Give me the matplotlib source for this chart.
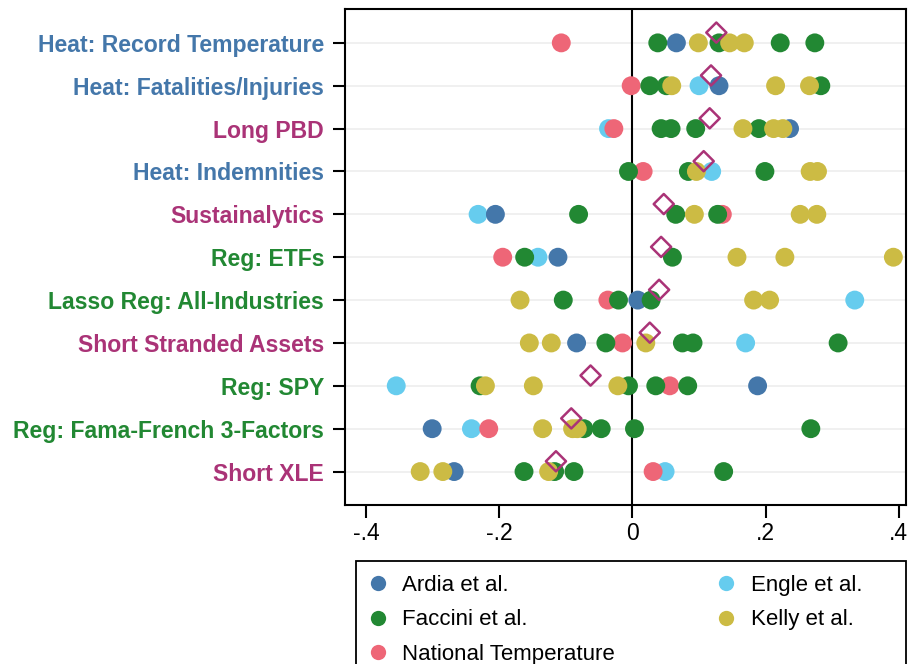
import matplotlib
matplotlib.use("Agg")
import matplotlib.pyplot as plt
from matplotlib.lines import Line2D
from matplotlib.patches import Rectangle

plt.rcParams['font.family'] = ['Liberation Sans', 'DejaVu Sans']

# strategies, top to bottom
strategies = [
    "Heat: Record Temperature", "Heat: Fatalities/Injuries", "Long PBD",
    "Heat: Indemnities", "Sustainalytics", "Reg: ETFs",
    "Lasso Reg: All-Industries", "Short Stranded Assets", "Reg: SPY",
    "Reg: Fama-French 3-Factors", "Short XLE",
]
label_colors = [
    "#4477AA", "#4477AA", "#AA3377", "#4477AA", "#AA3377", "#228833",
    "#228833", "#AA3377", "#228833", "#228833", "#AA3377",
]

# estimates per strategy and source
ardia = [[0.066], [0.130], [0.236], [], [-0.206], [-0.112], [0.008],
         [-0.084], [0.188], [-0.301], [-0.268]]
faccini = [[0.038, 0.130, 0.222, 0.274], [0.026, 0.051, 0.283],
           [0.043, 0.058, 0.095, 0.190], [-0.006, 0.084, 0.199],
           [-0.081, 0.065, 0.128], [-0.162, 0.060], [-0.104, -0.021, 0.028],
           [-0.040, 0.075, 0.091, 0.309], [-0.229, -0.006, 0.035, 0.083],
           [-0.073, -0.047, 0.003, 0.268], [-0.163, -0.117, -0.088, 0.137]]
national = [[-0.107], [-0.002], [-0.028], [0.016], [0.135], [-0.195],
            [-0.037], [-0.015], [0.056], [-0.216], [0.031]]
engle = [[], [0.100], [-0.036], [0.119], [-0.232], [-0.142], [0.334],
         [0.170], [-0.355], [-0.242], [0.049]]
kelly = [[0.099, 0.146, 0.168], [0.059, 0.215, 0.266],
         [0.166, 0.212, 0.226], [0.096, 0.267, 0.278],
         [0.093, 0.252, 0.277], [0.157, 0.229, 0.392],
         [-0.169, 0.182, 0.206], [-0.155, -0.122, 0.020],
         [-0.221, -0.149, -0.022], [-0.135, -0.090, -0.083],
         [-0.319, -0.285, -0.126]]
means = [0.126, 0.118, 0.116, 0.107, 0.047, 0.043, 0.040, 0.026,
         -0.063, -0.092, -0.115]

series = [
    ("Engle et al.", engle, "#66CCEE"),
    ("Ardia et al.", ardia, "#4477AA"),
    ("National Temperature", national, "#EE6677"),
    ("Faccini et al.", faccini, "#228833"),
    ("Kelly et al.", kelly, "#CCBB44"),
]

n = len(strategies)
ypos = [n - i for i in range(n)]

fig = plt.figure(figsize=(9.09, 6.64), dpi=100)
ax = fig.add_axes([345 / 909, 1 - 505 / 664, (906 - 345) / 909, (505 - 9) / 664])

for y in ypos:
    ax.axhline(y, color="#EFEFEF", lw=1.3, zorder=0)
ax.axvline(0, color="black", lw=1.5, zorder=1)

for z, (name, vals, col) in enumerate(series):
    xs, ys = [], []
    for y, row in zip(ypos, vals):
        xs += row
        ys += [y] * len(row)
    ax.scatter(xs, ys, s=185, color=col, edgecolors="none", zorder=3 + z)

ax.scatter(means, [y + 0.24 for y in ypos], marker="D", s=105,
           facecolors="none", edgecolors="#AA3377", linewidths=1.8, zorder=10)

ax.set_xlim(-0.432, 0.411)
ax.set_ylim(0.22, n + 0.79)
ax.set_xticks([-0.4, -0.2, 0, 0.2, 0.4])
ax.set_xticklabels(["-.4", "-.2", "0", ".2", ".4"], fontsize=16.5)
ax.set_yticks(ypos)
ax.set_yticklabels(strategies, fontsize=16.6, fontweight="bold")
for lab, c in zip(ax.get_yticklabels(), label_colors):
    lab.set_color(c)
ax.tick_params(axis="y", length=9, width=1.5, pad=6)
ax.tick_params(axis="x", length=9, width=1.5, pad=3)
for sp in ax.spines.values():
    sp.set_linewidth(1.5)

# legend, order: Ardia, Faccini, National | Engle, Kelly
order = ["Ardia et al.", "Faccini et al.", "National Temperature",
         "Engle et al.", "Kelly et al."]
cmap = {name: col for name, _, col in series}
handles = [Line2D([], [], marker="o", ls="none", ms=11, color=cmap[k],
                  markeredgewidth=0) for k in order]
fig.legend(handles, order, loc="upper left", ncol=2, frameon=False,
           bbox_to_anchor=(358 / 909, 1 - 566 / 664), fontsize=16,
           handletextpad=0.6, columnspacing=4.5, labelspacing=0.61,
           handlelength=1.0, borderaxespad=0)
fig.add_artist(Rectangle((356 / 909, -0.1), (906 - 356) / 909,
                         0.1 + (664 - 561) / 664, transform=fig.transFigure,
                         fill=False, lw=1.3, color="black"))

fig.savefig("out.png", dpi=100)
